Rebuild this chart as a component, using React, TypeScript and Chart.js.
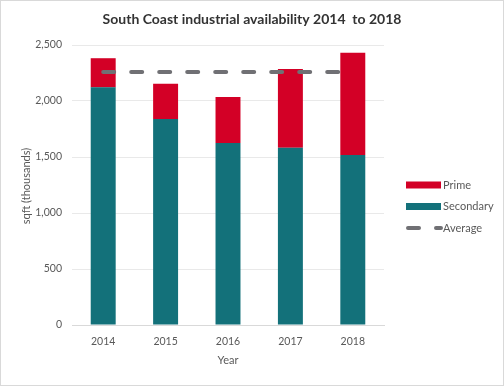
import React, { useEffect, useRef } from "react";
import { Chart, registerables } from "chart.js";

Chart.register(...registerables);

const years = ["2014", "2015", "2016", "2017", "2018"];
const secondaryValues = [2122, 1839, 1625, 1583, 1518];
const primeValues = [260, 316, 411, 703, 913];
const averageValues = [2258, 2258, 2258, 2258, 2258];
const yTicks = [0, 500, 1000, 1500, 2000, 2500];

const TITLE = "South Coast industrial availability 2014  to 2018";
const X_TITLE = "Year";
const Y_TITLE = "sqft (thousands)";
const RED = "#d30026";
const TEAL = "#13717a";
const GREY = "#707074";
const TEXT = "#595959";
const FONT = "Lato";
const DASH = [11, 17];

const legendItems = [
  { label: "Prime", color: RED, kind: "box" },
  { label: "Secondary", color: TEAL, kind: "box" },
  { label: "Average", color: GREY, kind: "dash" },
];

const overlayPlugin = {
  id: "overlay",
  afterDraw(chart: any) {
    const ctx = chart.ctx as CanvasRenderingContext2D;
    const area = chart.chartArea;
    const midY = (area.top + area.bottom) / 2;
    ctx.save();
    // chart title
    ctx.font = `bold 14px ${FONT}`;
    ctx.fillStyle = "#333333";
    ctx.textAlign = "center";
    ctx.textBaseline = "middle";
    ctx.fillText(TITLE, chart.width / 2, 18);
    // axis titles
    ctx.font = `11px ${FONT}`;
    ctx.fillStyle = TEXT;
    ctx.fillText(X_TITLE, (area.left + area.right) / 2, area.bottom + 35);
    ctx.save();
    ctx.translate(25.5, midY + 1);
    ctx.rotate(-Math.PI / 2);
    ctx.fillText(Y_TITLE, 0, 0);
    ctx.restore();
    // legend
    const x0 = area.right + 22;
    let y = midY;
    ctx.textAlign = "left";
    legendItems.forEach((it) => {
      if (it.kind === "box") {
        ctx.fillStyle = it.color;
        ctx.fillRect(x0, y - 3.5, 35, 7);
      } else {
        ctx.strokeStyle = it.color;
        ctx.lineWidth = 4;
        ctx.lineCap = "round";
        ctx.setLineDash(DASH);
        ctx.beginPath();
        ctx.moveTo(x0 + 2, y);
        ctx.lineTo(x0 + 35, y);
        ctx.stroke();
        ctx.setLineDash([]);
      }
      ctx.fillStyle = TEXT;
      ctx.fillText(it.label, x0 + 37, y);
      y += 21.5;
    });
    ctx.restore();
  },
};

export default function App() {
  const ref = useRef<HTMLCanvasElement | null>(null);

  useEffect(() => {
    document.body.style.margin = "0";
    const canvas = ref.current;
    if (!canvas) return;
    const chart = new Chart(canvas, {
      type: "bar",
      data: {
        labels: years,
        datasets: [
          {
            type: "line",
            label: "Average",
            data: averageValues,
            borderColor: GREY,
            borderWidth: 4,
            borderDash: DASH,
            borderCapStyle: "round",
            pointRadius: 0,
            fill: false,
            stack: "avg",
            order: 0,
          } as any,
          {
            label: "Secondary",
            data: secondaryValues,
            backgroundColor: TEAL,
            stack: "bars",
            order: 1,
            categoryPercentage: 1,
            barPercentage: 0.4,
          },
          {
            label: "Prime",
            data: primeValues,
            backgroundColor: RED,
            stack: "bars",
            order: 2,
            categoryPercentage: 1,
            barPercentage: 0.4,
          },
        ],
      },
      plugins: [overlayPlugin],
      options: {
        animation: false,
        responsive: false,
        layout: { padding: { left: 0, right: 119, top: 44, bottom: 0 } },
        plugins: {
          tooltip: { enabled: false },
          title: { display: false },
          legend: { display: false },
        },
        scales: {
          x: {
            stacked: true,
            grid: { display: false, drawTicks: false },
            border: { color: "#d9d9d9" },
            ticks: { color: TEXT, font: { family: FONT, size: 10.5 }, padding: 10 },
            afterFit: (scale: any) => {
              scale.height = 60;
            },
          },
          y: {
            stacked: true,
            min: yTicks[0],
            max: yTicks[yTicks.length - 1],
            afterBuildTicks: (scale: any) => {
              scale.ticks = yTicks.map((v) => ({ value: v }));
            },
            ticks: { color: TEXT, font: { family: FONT, size: 10.5 }, padding: 10 },
            grid: { color: "#e9e9e9", drawTicks: false },
            border: { display: false },
            afterFit: (scale: any) => {
              scale.width = 71;
            },
          },
        },
      },
    });
    return () => chart.destroy();
  }, []);

  return (
    <div
      style={{
        position: "absolute",
        left: 0,
        top: 0,
        width: 504,
        height: 386,
        boxSizing: "border-box",
        border: "1px solid #d9d9d9",
        background: "#fff",
      }}
    >
      <canvas ref={ref} width={502} height={384} style={{ display: "block" }} />
    </div>
  );
}
